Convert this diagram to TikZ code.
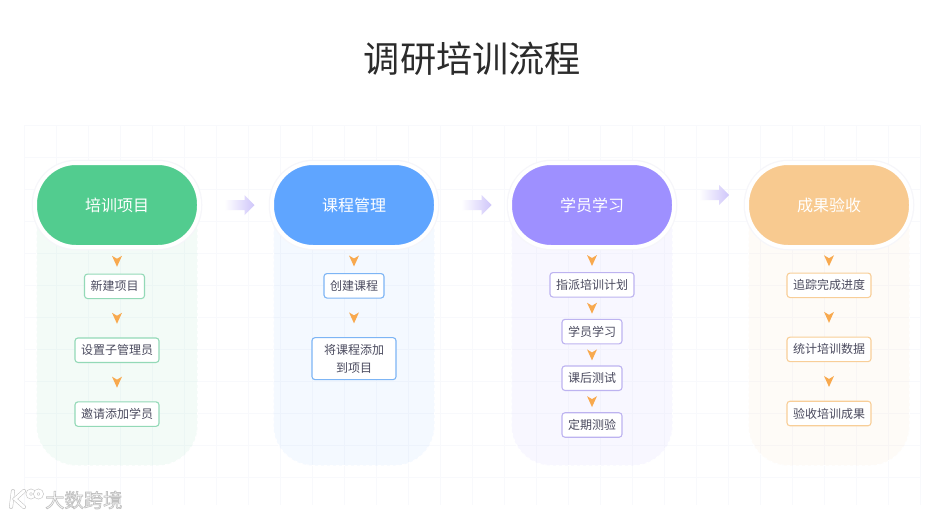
\documentclass[tikz,border=0pt]{standalone}
\usepackage{fontspec}
\usepackage{xcolor}
\usepackage{tikz}
\usetikzlibrary{arrows.meta, positioning}
\setmainfont{Noto Sans CJK SC}
\definecolor{TitleInk}{HTML}{2B2B2B}
\definecolor{BoxInk}{HTML}{4A4A5E}
\definecolor{GridLine}{HTML}{F8F9FC}
\definecolor{HaloGray}{HTML}{F6F6FA}
\definecolor{TipOrange}{HTML}{F8A94E}
\definecolor{ArrowPurple}{HTML}{CFC6FA}
\definecolor{MarkGray}{HTML}{C8C8C8}
\definecolor{TrainGreen}{HTML}{52CC8F}
\definecolor{CourseBlue}{HTML}{5FA5FF}
\definecolor{StudyPurple}{HTML}{9E90FF}
\definecolor{ResultOrange}{HTML}{F8CA90}
\definecolor{TrainEdge}{HTML}{93D9B7}
\definecolor{CourseEdge}{HTML}{7DB5F5}
\definecolor{StudyEdge}{HTML}{BDB3F0}
\definecolor{ResultEdge}{HTML}{F8CE98}
\newcommand{\markfont}{\special{pdf:code 2 Tr 0.7 w 0.76 G 1 g}}
\newcommand{\markend}{\special{pdf:code 0 Tr}}

\begin{document}
\begin{tikzpicture}[
  x=1pt, y=-1pt,
  node distance=24pt,
  panel/.style={rectangle, rounded corners=40pt, draw=white, dashed, line width=1pt,
                fill=#1, fill opacity=0.065, minimum width=161pt, minimum height=301pt},
  pill/.style={rectangle, rounded corners=41pt, draw=white, line width=4pt, fill=#1,
               preaction={draw=HaloGray, line width=6.5pt},
               minimum width=164pt, minimum height=84pt, text=white,
               font=\fontsize{16}{18}\selectfont},
  stepbox/.style={rectangle, rounded corners=3pt, draw=#1, line width=1.1pt, fill=white,
                  align=center, text=BoxInk, inner xsep=6pt, inner ysep=2pt,
                  minimum height=24.5pt, font=\fontsize{12}{18}\selectfont},
  tipmark/.pic={\fill[TipOrange] (-5,-5.5) -- (0,-2.5) -- (5,-5.5) -- (0,5.5) -- cycle;},
  flowmark/.pic={\shade[left color=white, right color=ArrowPurple]
    (-15,-5) -- (5,-5) -- (5,-10) -- (15,0) -- (5,10) -- (5,5) -- (-15,5) -- cycle;},
  markline/.style={draw=MarkGray, double=white, double distance=2.8pt, line width=0.6pt}
]

% Background and grid
\fill[white] (0,0) rectangle (939,517);
\useasboundingbox (0,0) rectangle (939,517);
\foreach \gx in {24,56,...,920} {\draw[GridLine, line width=0.8pt] (\gx,125) -- (\gx,505);}
\foreach \gy in {125,157,...,505} {\draw[GridLine, line width=0.8pt] (24,\gy) -- (920,\gy);}

% Title
\node[text=TitleInk, font=\fontsize{36.2}{40}\selectfont] (title) at (472.5,59) {调研培训流程};

% Panels
\node[panel=TrainGreen] (panelA) at (117,315) {};
\node[panel=CourseBlue] (panelB) at (354,315) {};
\node[panel=StudyPurple] (panelC) at (592,315) {};
\node[panel=ResultOrange] (panelD) at (829,315) {};

% Headers
\node[pill=TrainGreen] (headA) at (117,205) {培训项目};
\node[pill=CourseBlue] (headB) at (354,205) {课程管理};
\node[pill=StudyPurple] (headC) at (592,205) {学员学习};
\node[pill=ResultOrange] (headD) at (829,205) {成果验收};

% Column one
\node[stepbox=TrainEdge, below=24.5pt of headA, xshift=-2.5pt] (newproject) {新建项目};
\node[stepbox=TrainEdge, below=38.3pt of newproject, xshift=2.5pt] (submanager) {设置子管理员};
\node[stepbox=TrainEdge, below=38.3pt of submanager] (invite) {邀请添加学员};

% Column two
\node[stepbox=CourseEdge, below=24pt of headB] (newcourse) {创建课程};
\node[stepbox=CourseEdge, below=38.5pt of newcourse, minimum width=84pt, minimum height=42pt] (addcourse) {将课程添加\\到项目};

% Column three
\node[stepbox=StudyEdge, below=23pt of headC] (assign) {指派培训计划};
\node[stepbox=StudyEdge, below=21.2pt of assign] (study) {学员学习};
\node[stepbox=StudyEdge, below=21pt of study] (aftertest) {课后测试};
\node[stepbox=StudyEdge, below=21.2pt of aftertest] (regular) {定期测验};

% Column four
\node[stepbox=ResultEdge, below=23.5pt of headD] (track) {追踪完成进度};
\node[stepbox=ResultEdge, below=38.5pt of track] (stats) {统计培训数据};
\node[stepbox=ResultEdge, below=38.5pt of stats] (verify) {验收培训成果};

% Small arrows
\path (headA.south) -- pic{tipmark} (newproject.north -| headA.south);
\path (newproject.south -| headA.south) -- pic{tipmark} (submanager);
\path (submanager) -- pic{tipmark} (invite);
\path (headB.south) -- pic{tipmark} (newcourse.north);
\path (newcourse) -- pic{tipmark} (addcourse);
\path (headC.south) -- pic{tipmark} (assign.north);
\path (assign) -- pic{tipmark} (study);
\path (study) -- pic{tipmark} (aftertest);
\path (aftertest) -- pic{tipmark} (regular);
\path (headD.south) -- pic{tipmark} (track.north);
\path (track) -- pic{tipmark} (stats);
\path (stats) -- pic{tipmark} (verify);

% Arrows between headers
\path (headA) -- pic[xshift=4pt]{flowmark} (headB);
\path (headB) -- pic[xshift=3.5pt]{flowmark} (headC);
\path (headC) -- pic[xshift=3.5pt, yshift=10pt]{flowmark} (headD);

% Watermark
\draw[markline, line cap=round] (13,491) -- (11,507);
\draw[markline, line cap=round] (24,491) -- (15,499) -- (24,507);
\draw[markline] (31,494) circle (3.2pt);
\draw[markline] (38.5,494) circle (3.2pt);
\node[anchor=west, inner sep=0pt, font=\fontsize{19.3}{20}\selectfont] (mark) at (45,500) {\markfont 大数跨境\markend};

\end{tikzpicture}
\end{document}
